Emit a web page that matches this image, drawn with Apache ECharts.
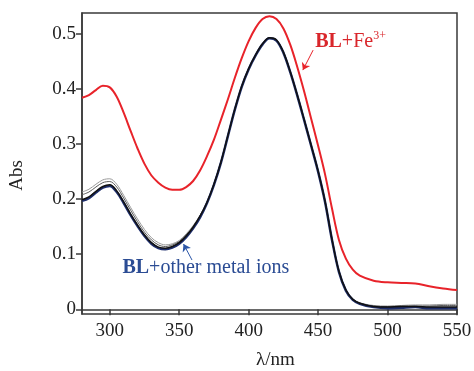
<!DOCTYPE html>
<html>
<head>
<meta charset="utf-8">
<script src="https://cdn.jsdelivr.net/npm/echarts@6/dist/echarts.min.js"></script>
<style>
  html, body { margin: 0; padding: 0; background: #fff; }
  #chart { width: 474px; height: 371px; }
</style>
</head>
<body>
<div id="chart"></div>
<script>
// wavelength (nm) grid shared by all spectra
const wavelengths = [280, 285, 290, 295, 300, 305, 310, 315, 320, 325, 330, 335, 340, 345, 350, 355, 360, 365, 370, 375,
  380, 385, 390, 395, 400, 405, 410, 415, 420, 425, 430, 435, 440, 445, 450, 455, 460, 465, 470, 475,
  480, 490, 500, 510, 520, 530, 540, 550]

// BL + Fe3+
const absFe = [0.384, 0.389, 0.398, 0.406, 0.403, 0.386, 0.357, 0.324, 0.292, 0.264, 0.243, 0.230, 0.221, 0.217, 0.217, 0.222,
  0.233, 0.252, 0.278, 0.308, 0.344, 0.381, 0.420, 0.456, 0.487, 0.511, 0.527, 0.532, 0.527, 0.510, 0.480, 0.440, 0.395,
  0.346, 0.297, 0.245, 0.183, 0.126, 0.092, 0.072, 0.061, 0.052, 0.049, 0.048, 0.047, 0.042, 0.038, 0.035]

// BL + other metal ions (several nearly overlapping traces)
const absNavy = [0.197, 0.202, 0.212, 0.221, 0.224, 0.213, 0.193, 0.171, 0.151, 0.133, 0.119, 0.111, 0.109, 0.112, 0.119, 0.131,
  0.147, 0.167, 0.193, 0.226, 0.266, 0.314, 0.362, 0.404, 0.436, 0.461, 0.481, 0.492, 0.488, 0.466, 0.430, 0.388, 0.343,
  0.297, 0.250, 0.195, 0.126, 0.068, 0.034, 0.017, 0.010, 0.004, 0.002, 0.003, 0.004, 0.002, 0.002, 0.002]
const absBlack = [0.199, 0.204, 0.214, 0.223, 0.226, 0.215, 0.195, 0.173, 0.153, 0.135, 0.121, 0.113, 0.111, 0.114, 0.121, 0.133,
  0.149, 0.169, 0.194, 0.227, 0.267, 0.315, 0.363, 0.405, 0.437, 0.462, 0.482, 0.493, 0.489, 0.467, 0.431, 0.389, 0.344,
  0.298, 0.251, 0.196, 0.127, 0.069, 0.035, 0.018, 0.011, 0.005, 0.004, 0.005, 0.005, 0.004, 0.004, 0.004]
const absGray1 = [0.213, 0.218, 0.227, 0.235, 0.237, 0.227, 0.207, 0.185, 0.164, 0.145, 0.130, 0.121, 0.117, 0.119, 0.125, 0.137,
  0.152, 0.171, 0.195, 0.228, 0.267, 0.315, 0.363, 0.405, 0.437, 0.462, 0.482, 0.493, 0.489, 0.467, 0.431, 0.389, 0.344,
  0.298, 0.251, 0.196, 0.127, 0.069, 0.036, 0.019, 0.012, 0.007, 0.006, 0.007, 0.008, 0.008, 0.009, 0.009]
const absGray2 = [0.208, 0.213, 0.222, 0.230, 0.232, 0.222, 0.202, 0.180, 0.159, 0.140, 0.126, 0.117, 0.114, 0.117, 0.123, 0.135,
  0.150, 0.170, 0.194, 0.227, 0.267, 0.314, 0.362, 0.404, 0.436, 0.461, 0.481, 0.492, 0.488, 0.466, 0.430, 0.388, 0.343,
  0.297, 0.250, 0.195, 0.126, 0.068, 0.035, 0.018, 0.011, 0.006, 0.005, 0.006, 0.006, 0.006, 0.007, 0.007]

const xTicks = [300, 350, 400, 450, 500, 550]
const yTicks = [0, 0.1, 0.2, 0.3, 0.4, 0.5]

const font = "'Liberation Serif', 'DejaVu Serif', serif"
const axisColor = '#3a3a3a'
const pair = arr => wavelengths.map((w, i) => [w, arr[i]])

function line(name, arr, color, width, z) {
  return { name, type: 'line', data: pair(arr), smooth: 0.35, showSymbol: false, z,
    lineStyle: { color, width }, itemStyle: { color } }
}

const chart = echarts.init(document.getElementById('chart'), null, { renderer: 'canvas' })
chart.setOption({
  animation: false,
  textStyle: { fontFamily: font },
  grid: { left: 82, right: 17, top: 13, bottom: 57, outerBoundsMode: 'none',
    show: true, borderColor: axisColor, borderWidth: 1.5 },
  xAxis: {
    type: 'value', min: 280, max: 550,
    name: 'λ/nm', nameLocation: 'middle', nameGap: 37,
    nameTextStyle: { fontFamily: font, fontSize: 19, color: '#222', padding: [0, 0, 0, 12] },
    axisLine: { lineStyle: { color: axisColor, width: 1.5 } },
    axisTick: { customValues: xTicks, length: 6, lineStyle: { color: axisColor, width: 1.5 } },
    axisLabel: { customValues: xTicks, fontFamily: font, fontSize: 19, color: '#222', margin: 8 },
    splitLine: { show: false }
  },
  yAxis: {
    type: 'value', min: -0.0085, max: 0.538,
    name: 'Abs', nameLocation: 'middle', nameGap: 55,
    nameTextStyle: { fontFamily: font, fontSize: 19, color: '#222', padding: [0, 24, 0, 0] },
    axisLine: { lineStyle: { color: axisColor, width: 1.5 } },
    axisTick: { customValues: yTicks, length: 6, lineStyle: { color: axisColor, width: 1.5 } },
    axisLabel: { customValues: yTicks, fontFamily: font, fontSize: 19, color: '#222', margin: 6,
      formatter: v => (Math.abs(v) < 1e-9 ? '0' : v.toFixed(1)) },
    splitLine: { show: false }
  },
  series: [
    line('gray1', absGray1, '#9a9a9a', 1, 2),
    line('gray2', absGray2, '#5a5a5a', 1, 3),
    Object.assign(line('navy', absNavy, '#1d2d6b', 2.5, 4), {
      markLine: {
        silent: true, symbol: ['none', 'arrow'], symbolSize: 7,
        lineStyle: { color: '#2d57a8', width: 1, type: 'solid' }, label: { show: false },
        data: [[{ coord: [359.2, 0.0895] }, { coord: [353.1, 0.1185] }]]
      }
    }),
    line('black', absBlack, '#111111', 1.5, 5),
    Object.assign(line('BL+Fe3+', absFe, '#e8232a', 2, 6), {
      markLine: {
        silent: true, symbol: ['none', 'arrow'], symbolSize: 7,
        lineStyle: { color: '#e8232a', width: 1, type: 'solid' }, label: { show: false },
        data: [[{ coord: [446.4, 0.4706] }, { coord: [439.0, 0.4343] }]]
      }
    })
  ]
})

// annotation labels anchored in data coordinates
const labelFe = chart.convertToPixel({ gridIndex: 0 }, [447.9, 0.487])
const labelOther = chart.convertToPixel({ gridIndex: 0 }, [309.1, 0.075])
chart.setOption({
  graphic: [
    { type: 'text', x: labelFe[0], y: labelFe[1], z: 10,
      style: { text: '{b|BL}{n|+Fe}{s|3+}', verticalAlign: 'middle', fill: '#d9262b',
        rich: {
          b: { fontFamily: font, fontSize: 20, fontWeight: 'bold', fill: '#d9262b', lineHeight: 22, verticalAlign: 'bottom' },
          n: { fontFamily: font, fontSize: 20, fill: '#d9262b', lineHeight: 22, verticalAlign: 'bottom' },
          s: { fontFamily: font, fontSize: 12, fill: '#d9262b', lineHeight: 12, verticalAlign: 'top' }
        } } },
    { type: 'text', x: labelOther[0], y: labelOther[1], z: 10,
      style: { text: '{b|BL}{n|+other metal ions}', verticalAlign: 'middle', fill: '#2b4c94',
        rich: {
          b: { fontFamily: font, fontSize: 20, fontWeight: 'bold', fill: '#2b4c94' },
          n: { fontFamily: font, fontSize: 20, fill: '#2b4c94' }
        } } }
  ]
})
</script>
</body>
</html>
